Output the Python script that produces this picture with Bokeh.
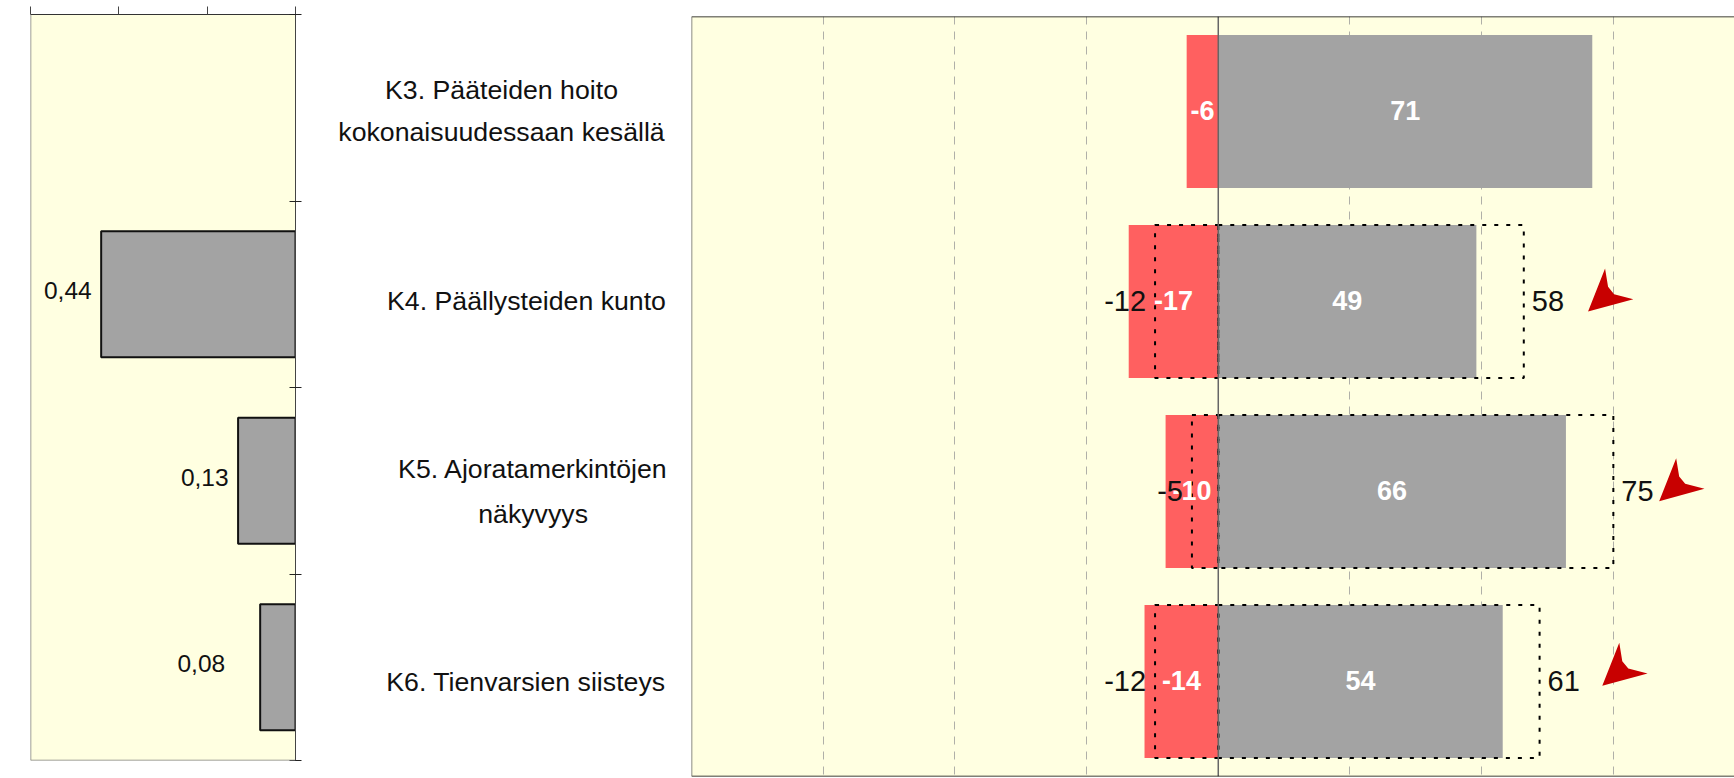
from bokeh.plotting import figure
from bokeh.layouts import row
from bokeh.core.properties import value
from bokeh.models import (ColumnDataSource, LabelSet, Range1d, LinearAxis, FixedTicker,
                          Grid, Span)
from bokeh.embed import file_html
from bokeh.resources import INLINE

# ---- data -------------------------------------------------------------
row_index = [0, 1, 2, 3]
label_lines = ["K3. Pääteiden hoito", "kokonaisuudessaan kesällä", "K4. Päällysteiden kunto",
               "K5. Ajoratamerkintöjen", "näkyvyys", "K6. Tienvarsien siisteys"]
label_rows = [0, 0, 1, 2, 2, 3]

importance_rows = [1, 2, 3]
importance = [0.44, 0.13, 0.08]
importance_text = ["0,44", "0,13", "0,08"]

neg_now = [-6, -17, -10, -14]
pos_now = [71, 49, 66, 54]

prev_rows = [1, 2, 3]
neg_prev = [-12, -5, -12]
pos_prev = [58, 75, 61]

arrow_x = [70.2, 83.7, 72.9]
arrow_y = [1.553, 2.551, 3.523]

left_x_ticks = [0.6, 0.4, 0.2, 0.0]
right_grid_ticks = [-100, -75, -50, -25, 25, 50, 75]
row_edges = [0, 1, 2, 3, 4]

# ---- style ------------------------------------------------------------
PANEL = "#FFFFE1"
GRAY = "#A3A3A3"
RED = "#FF6060"
ARROW = "#C80000"
FONT = value("Liberation Sans")
LABEL_PX = "26.7px"
BAR_LEFT = 0.675
BAR_RIGHT = 0.805

# ---- left panel -------------------------------------------------------
left = figure(width=310, height=778, x_range=Range1d(0.6, 0.0), y_range=Range1d(4, 0),
              x_axis_type=None, y_axis_type=None, output_backend="svg", toolbar_location=None,
              min_border_left=30, min_border_right=15, min_border_top=14, min_border_bottom=18,
              background_fill_color=PANEL, border_fill_color="white", outline_line_color=None,
              frame_align=False)
left.grid.visible = False

top_axis = LinearAxis(ticker=FixedTicker(ticks=left_x_ticks),
                      major_label_overrides={t: "" for t in left_x_ticks},
                      major_tick_in=0, major_tick_out=8, major_label_standoff=0,
                      major_label_text_font_size="1px", axis_line_color="#333333",
                      major_tick_line_color="#444444", minor_tick_line_color=None)
left.add_layout(top_axis, "above")
right_axis = LinearAxis(ticker=FixedTicker(ticks=row_edges),
                        major_label_overrides={t: "" for t in row_edges},
                        major_tick_in=6, major_tick_out=6, major_label_standoff=0,
                        major_label_text_font_size="1px", axis_line_color="#444444",
                        major_tick_line_color="#222222", minor_tick_line_color=None)
left.add_layout(right_axis, "right")
for loc, dim in ((0.6, "height"), (4, "width")):
    left.add_layout(Span(location=loc, dimension=dim, line_color="#808080", line_width=1.5))

centers_l = [r + 0.5 for r in importance_rows]
left.hbar(y=centers_l, left=0, right=importance, height=BAR_LEFT,
          fill_color=GRAY, line_color="#111111", line_width=2)
left.add_layout(LabelSet(source=ColumnDataSource(dict(
        x=importance, y=centers_l, t=importance_text,
        xo=[-9.5, -9.5, -35], yo=[4, 3.5, 3.5])),
    x="x", y="y", text="t", x_offset="xo", y_offset="yo", text_align="right",
    text_baseline="middle", text_font=FONT, text_font_size="24.5px", text_color="#111111"))

# ---- category label strip --------------------------------------------
middle = figure(width=380, height=778, x_range=Range1d(0, 380), y_range=Range1d(4, 0),
                x_axis_type=None, y_axis_type=None, output_backend="svg", toolbar_location=None,
                min_border_left=0, min_border_right=0, min_border_top=14, min_border_bottom=18,
                background_fill_color="white", border_fill_color="white", outline_line_color=None,
                frame_align=False)
middle.grid.visible = False
middle.text(x=[191, 191, 216, 222.6, 222.6, 215.4], y=[r + 0.5 for r in label_rows], text=label_lines,
            y_offset=[-18, 24, 6.7, -12, 33, 14.5], text_align="center", text_baseline="middle",
            text_font=FONT, text_font_size=LABEL_PX, text_color="#111111")

# ---- right panel ------------------------------------------------------
right = figure(width=1044, height=778, x_range=Range1d(-100, 98), y_range=Range1d(4, 0),
               x_axis_type=None, y_axis_type=None, output_backend="svg", toolbar_location=None,
               min_border_left=1, min_border_right=0, min_border_top=16, min_border_bottom=2,
               background_fill_color=PANEL, border_fill_color="white", outline_line_color=None,
               frame_align=False)
right.add_layout(Grid(dimension=0, ticker=FixedTicker(ticks=right_grid_ticks),
                      grid_line_color="#B0B0A8", grid_line_dash="8 7", grid_line_width=1))

centers = [r + 0.5 for r in row_index]
right.hbar(y=centers, left=neg_now, right=0, height=BAR_RIGHT, fill_color=RED, line_color=None)
right.hbar(y=centers, left=0, right=pos_now, height=BAR_RIGHT, fill_color=GRAY, line_color=None)

centers_p = [r + 0.5 for r in prev_rows]
dash = dict(height=BAR_RIGHT, fill_color=None, line_color="black", line_width=2, line_dash="4 8")
right.hbar(y=centers_p, left=neg_prev, right=0, **dash)
right.hbar(y=centers_p, left=0, right=pos_prev, **dash)

right.add_layout(Span(location=0, dimension="height", line_color="#666666", line_width=1.5))
for loc in (0, 4):
    right.add_layout(Span(location=loc, dimension="width", line_color="black", line_width=1.5))
right.add_layout(Span(location=-100, dimension="height", line_color="#666666", line_width=1.5))

# trend arrows: one pixel-shaped polygon per row, converted through the scale
PX_X = 198 / 1043
PX_Y = 4 / 760
shape = [(0, 0), (17, -43), (20, -24.7), (26, -17.4), (45.3, -12.4)]
right.patches(xs=[[ax + sx * PX_X for sx, _ in shape] for ax in arrow_x],
              ys=[[ay + sy * PX_Y for _, sy in shape] for ay in arrow_y],
              fill_color=ARROW, line_color=None)

inside = ColumnDataSource(dict(
    x=[v / 2 for v in neg_now + pos_now], y=centers + centers,
    t=[str(v) for v in neg_now + pos_now]))
right.add_layout(LabelSet(source=inside, x="x", y="y", text="t", y_offset=1, text_align="center",
                          text_baseline="middle", text_font=FONT, text_font_style="bold",
                          text_font_size="27px", text_color="white"))
outside = ColumnDataSource(dict(
    x=neg_prev + pos_prev, y=centers_p + centers_p,
    t=[str(v) for v in neg_prev + pos_prev],
    xo=[-9] * 3 + [8] * 3, ta=["right"] * 3 + ["left"] * 3))
right.add_layout(LabelSet(source=outside, x="x", y="y", text="t", x_offset="xo", y_offset=1,
                          text_align="ta", text_baseline="middle", text_font=FONT,
                          text_font_size="29px", text_color="#111111"))

page = row(left, middle, right)
open("out.html", "w").write(file_html(page, INLINE))
